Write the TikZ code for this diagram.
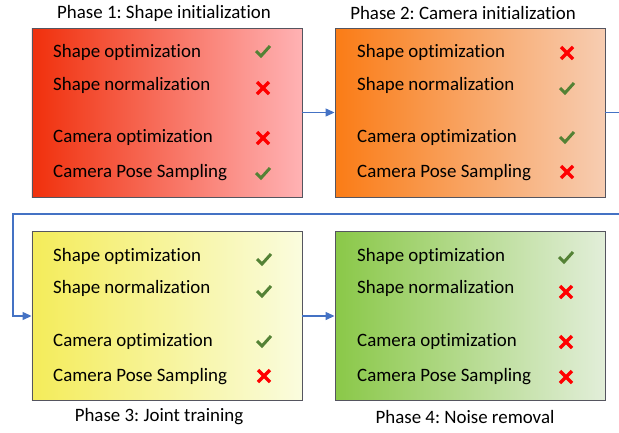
\documentclass[tikz,border=0pt]{standalone}
\usepackage{fontspec}
\setmainfont{Carlito}[RawFeature=-liga]
\usetikzlibrary{arrows.meta,calc}
\frenchspacing
\definecolor{conn}{RGB}{68,114,196}
\definecolor{okg}{RGB}{84,130,53}
\definecolor{nored}{RGB}{255,0,0}
\definecolor{edge}{RGB}{85,85,95}
\tikzset{
  phasebox/.style={draw=edge, line width=0.9bp, minimum width=270bp, minimum height=169bp, inner sep=0pt},
  item/.style={anchor=west, inner sep=0pt, yshift=-1.5bp, font=\fontsize{18.9bp}{22bp}\selectfont},
  ttl/.style={inner sep=0pt, font=\fontsize{18.9bp}{22bp}\selectfont},
  conline/.style={draw=conn, line width=1.3bp},
  arr/.style={-{Triangle[length=9bp,width=8bp]}},
}
\newcommand{\okmark}[1]{\draw[okg, line width=3bp] ($(#1)+(-7,0)$) -- ($(#1)+(-2,5)$) -- ($(#1)+(7,-5)$);}
\newcommand{\nomark}[1]{\draw[nored, line width=3.4bp] ($(#1)+(-6,-6)$) -- ($(#1)+(6,6)$) ($(#1)+(-6,6)$) -- ($(#1)+(6,-6)$);}
\begin{document}
\begin{tikzpicture}[x=1bp,y=-1bp]
\useasboundingbox (0,0) rectangle (619,432);
\clip (0,0) rectangle (619,432);
\node[phasebox, left color={rgb,255:red,240;green,48;blue,12}, right color={rgb,255:red,255;green,178;blue,180}] (b1) at (167,112.5) {};
\node[phasebox, left color={rgb,255:red,250;green,124;blue,22}, right color={rgb,255:red,247;green,205;blue,178}] (b2) at (470,112.5) {};
\node[phasebox, left color={rgb,255:red,244;green,236;blue,90}, right color={rgb,255:red,250;green,252;blue,222}] (b3) at (167,316) {};
\node[phasebox, left color={rgb,255:red,138;green,200;blue,72}, right color={rgb,255:red,226;green,238;blue,217}] (b4) at (470,316) {};

\node[ttl] (t1) at (164,13) {Phase 1: Shape initialization};
\node[ttl] (t2) at (463,13) {Phase 2: Camera initialization};
\node[ttl] (t3) at (159,417) {Phase 3: Joint training};
\node[ttl] (t4) at (465,417) {Phase 4: Noise removal};

% box 1
\node[item] (a1) at (53,51) {Shape optimization};
\node[item] (a2) at (53,84) {Shape normalization};
\node[item] (a3) at (53,136) {Camera optimization};
\node[item] (a4) at (53,171) {Camera Pose Sampling};
% box 2
\node[item] (c1) at (357,51) {Shape optimization};
\node[item] (c2) at (357,84) {Shape normalization};
\node[item] (c3) at (357,136) {Camera optimization};
\node[item] (c4) at (357,171) {Camera Pose Sampling};
% box 3
\node[item] (d1) at (53,255) {Shape optimization};
\node[item] (d2) at (53,287) {Shape normalization};
\node[item] (d3) at (53,340) {Camera optimization};
\node[item] (d4) at (53,375) {Camera Pose Sampling};
% box 4
\node[item] (e1) at (357,255) {Shape optimization};
\node[item] (e2) at (357,287) {Shape normalization};
\node[item] (e3) at (357,340) {Camera optimization};
\node[item] (e4) at (357,375) {Camera Pose Sampling};

\okmark{263,51}
\nomark{263,88}
\nomark{263,138}
\okmark{263,173}

\nomark{567,53}
\okmark{567,88}
\okmark{567,137}
\nomark{567,172}

\okmark{264,259}
\okmark{264,291}
\okmark{264,341}
\nomark{264,376}

\okmark{566,257}
\nomark{566,292}
\nomark{566,342}
\nomark{566,377}

\coordinate (r1) at (625,112.5);
\coordinate (r2) at (625,214);
\coordinate (l1) at (13,214);
\draw[conline, arr] (b1.east) -- (b2.west);
\draw[conline, arr] (b2.east) -- (r1) -- (r2) -- (l1) |- (b3.west);
\draw[conline, arr] (b3.east) -- (b4.west);
\end{tikzpicture}
\end{document}
